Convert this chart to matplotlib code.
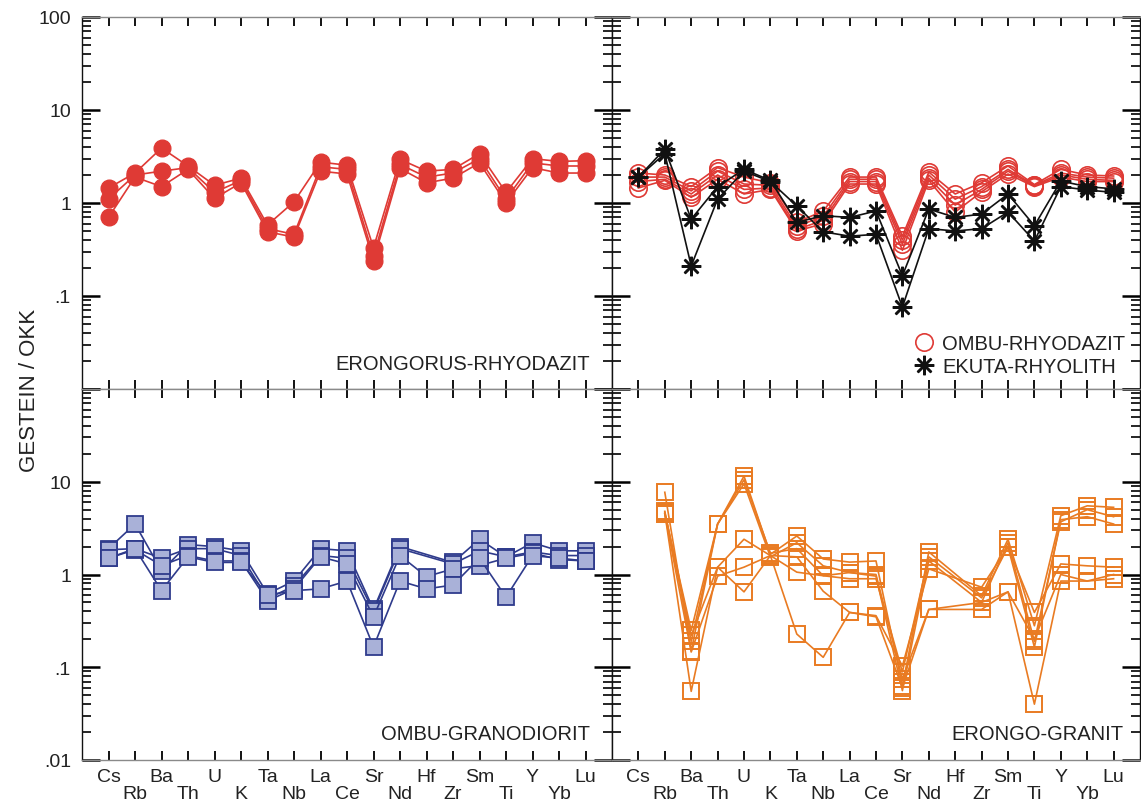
import numpy as np
import matplotlib.pyplot as plt
from matplotlib.lines import Line2D
from matplotlib.ticker import FixedLocator, FixedFormatter, LogLocator, NullFormatter

plt.rcParams['font.family'] = ['Liberation Sans', 'DejaVu Sans']
plt.rcParams['text.color'] = '#222222'

# normalised to ocean ridge granite (OKK)
elements = ['Cs', 'Rb', 'Ba', 'Th', 'U', 'K', 'Ta', 'Nb', 'La', 'Ce',
            'Sr', 'Nd', 'Hf', 'Zr', 'Sm', 'Ti', 'Y', 'Yb', 'Lu']
nan = np.nan

erongorus_rhyodazit = [
    [1.45, 2.1, 3.9, 2.5, 1.55, 1.85, 0.58, 1.03, 2.75, 2.55, 0.33, 2.95, 2.2, 2.3, 3.4, 1.3, 3.0, 2.8, 2.85],
    [1.1, 2.0, 2.2, 2.4, 1.3, 1.75, 0.53, 0.46, 2.45, 2.3, 0.27, 2.6, 1.9, 2.1, 3.0, 1.1, 2.7, 2.5, 2.5],
    [0.7, 1.9, 1.5, 2.3, 1.12, 1.65, 0.49, 0.43, 2.2, 2.05, 0.24, 2.35, 1.65, 1.85, 2.7, 1.0, 2.4, 2.1, 2.1],
]

ombu_rhyodazit = [
    [2.1, 2.0, 1.5, 2.4, 1.9, 1.65, 0.62, 0.82, 1.9, 1.9, 0.44, 2.15, 1.25, 1.65, 2.5, 1.58, 2.3, 2.0, 1.95],
    [1.9, 1.9, 1.35, 2.2, 1.6, 1.55, 0.56, 0.72, 1.8, 1.8, 0.40, 2.0, 1.1, 1.5, 2.3, 1.55, 2.1, 1.9, 1.85],
    [1.7, 1.8, 1.25, 2.0, 1.4, 1.45, 0.52, 0.65, 1.7, 1.7, 0.36, 1.85, 0.95, 1.4, 2.2, 1.52, 2.0, 1.8, 1.75],
    [1.45, 1.75, 1.15, 1.8, 1.25, 1.4, 0.50, 0.60, 1.6, 1.6, 0.31, 1.75, 0.8, 1.32, 2.05, 1.5, 1.9, 1.7, 1.7],
]

ekuta_rhyolith = [
    [1.9, 3.8, 0.67, 1.5, 2.3, 1.75, 0.62, 0.73, 0.70, 0.82, 0.165, 0.86, 0.70, 0.76, 1.25, 0.57, 1.72, 1.5, 1.42],
    [1.9, 3.4, 0.21, 1.1, 2.2, 1.7, 0.93, 0.49, 0.44, 0.46, 0.076, 0.53, 0.50, 0.53, 0.80, 0.39, 1.5, 1.38, 1.3],
]

ombu_granodiorit = [
    [1.9, 3.5, 1.1, 2.1, 2.0, 1.8, 0.62, 0.85, 1.9, 1.8, 0.42, 2.0, nan, 1.35, 2.4, 1.55, 2.2, 1.8, 1.8],
    [1.85, 1.9, 1.5, 1.9, 1.9, 1.6, 0.55, 0.75, 1.6, 1.5, 0.40, 1.9, nan, 1.3, 1.8, 1.55, 1.75, 1.6, 1.6],
    [1.5, 1.85, 1.25, 1.6, 1.4, 1.4, 0.52, 0.70, 1.55, 1.3, 0.35, 1.6, 0.95, 1.15, 1.25, 1.5, 1.7, 1.45, 1.4],
    [1.5, 1.9, 0.67, 1.55, 1.35, 1.35, 0.60, 0.67, 0.70, 0.85, 0.166, 0.85, 0.70, 0.77, 1.5, 0.57, 1.6, 1.5, 1.4],
]

erongo_granit = [
    [nan, 7.7, 0.15, 3.5, 11.5, 1.65, 2.6, 1.47, 1.36, 1.4, 0.063, 1.75, nan, 0.59, 2.4, 0.28, 4.3, 5.5, 5.3],
    [nan, 4.8, 0.19, 3.5, 9.5, 1.55, 2.2, 1.24, 1.05, 0.96, 0.056, 1.4, nan, 0.50, 2.2, 0.19, 3.7, 5.0, 4.2],
    [nan, 4.5, 0.25, 3.5, 10.5, 1.7, 1.9, 0.97, 0.9, 0.9, 0.089, 1.55, nan, 0.56, 1.98, 0.165, 3.9, 4.2, 3.5],
    [nan, 4.6, 0.055, 1.2, 2.4, 1.6, 1.55, 0.66, 0.39, 0.36, 0.103, 1.15, nan, 0.73, 1.98, 0.39, 1.3, 1.24, 1.2],
    [nan, 4.5, 0.146, 0.96, 1.2, 1.6, 1.06, 0.97, 1.05, 1.0, 0.075, 0.42, nan, 0.42, 0.65, 0.04, 0.85, 0.85, 0.9],
    [nan, 4.7, 0.22, 1.2, 0.65, 1.6, 0.228, 0.128, 0.39, 0.35, 0.06, 0.42, nan, 0.50, 0.65, 0.2, 1.0, 0.85, 1.0],
]

RED = '#df3a35'
ORANGE = '#e97b22'
BLUE_EDGE = '#2f3b8c'
BLUE_FILL = '#a9b1d8'
FS = 14.5

W, H = 1141, 803
fig = plt.figure(figsize=(W / 100, H / 100), dpi=100)


def panel(x0, x1, y0, y1):
    return fig.add_axes([x0 / W, 1 - y1 / H, (x1 - x0) / W, (y1 - y0) / H])


def style(ax, ylabels, xlabels):
    ax.set_yscale('log')
    ax.set_ylim(0.01, 100)
    ax.set_xlim(-1, 19)
    ax.yaxis.set_major_locator(FixedLocator([0.01, 0.1, 1, 10, 100]))
    ax.yaxis.set_minor_locator(LogLocator(base=10, subs=range(2, 10), numticks=20))
    ax.yaxis.set_minor_formatter(NullFormatter())
    if ylabels is None:
        ax.yaxis.set_major_formatter(NullFormatter())
    else:
        ax.yaxis.set_major_formatter(FixedFormatter(ylabels))
    ax.tick_params(axis='y', which='major', direction='in', left=True, right=True,
                   length=13, width=1.8, labelsize=14, pad=8, labelcolor='#222222')
    ax.tick_params(axis='y', which='minor', direction='in', left=True, right=True,
                   length=6.5, width=1.2)
    # alternate element labels on two rows
    ax.xaxis.set_major_locator(FixedLocator(range(0, len(elements), 2)))
    ax.xaxis.set_minor_locator(FixedLocator(range(1, len(elements), 2)))
    if xlabels:
        ax.xaxis.set_major_formatter(FixedFormatter(elements[0::2]))
        ax.xaxis.set_minor_formatter(FixedFormatter(elements[1::2]))
    else:
        ax.xaxis.set_major_formatter(NullFormatter())
        ax.xaxis.set_minor_formatter(NullFormatter())
    ax.tick_params(axis='x', which='major', direction='in', top=True, bottom=True,
                   length=6.5, width=1.3, labelsize=14, pad=6, labelcolor='#222222')
    ax.tick_params(axis='x', which='minor', direction='in', top=True, bottom=True,
                   length=6.5, width=1.3, labelsize=14, pad=18, labelcolor='#222222')
    for s in ['top', 'bottom']:
        ax.spines[s].set_color('#8a8a8a')
        ax.spines[s].set_linewidth(1.0)
    for s in ['left', 'right']:
        ax.spines[s].set_color('#111111')
        ax.spines[s].set_linewidth(1.0)


def draw(ax, series, **kw):
    x = np.arange(len(elements))
    for s in series:
        y = np.array(s, dtype=float)
        ok = np.isfinite(y)
        ax.plot(x[ok], y[ok], **kw)


ax1 = panel(82, 612, 18, 390)
ax2 = panel(612, 1140, 18, 390)
ax3 = panel(82, 612, 390, 761)
ax4 = panel(612, 1140, 390, 761)

style(ax1, ['', '.1', '1', '10', '100'], False)
style(ax2, None, False)
style(ax3, ['.01', '.1', '1', '10', ''], True)
style(ax4, None, True)

draw(ax1, erongorus_rhyodazit, color=RED, lw=1.2, marker='o', ms=12,
     mfc=RED, mec=RED)

draw(ax2, ombu_rhyodazit, color=RED, lw=1.2, marker='o', ms=12.5,
     mfc='none', mec=RED, mew=1.2)
draw(ax2, ekuta_rhyolith, color='#111111', lw=1.2, marker=(8, 2, 0), ms=14,
     mec='#111111', mew=1.8)

draw(ax3, ombu_granodiorit, color=BLUE_EDGE, lw=1.2, marker='s', ms=12,
     mfc=BLUE_FILL, mec=BLUE_EDGE, mew=1.3)

draw(ax4, erongo_granit, color=ORANGE, lw=1.2, marker='s', ms=12,
     mfc='none', mec=ORANGE, mew=1.4)

ax1.text(0.958, 0.054, 'ERONGORUS-RHYODAZIT', transform=ax1.transAxes,
         ha='right', va='baseline', fontsize=FS)
ax3.text(0.958, 0.057, 'OMBU-GRANODIORIT', transform=ax3.transAxes,
         ha='right', va='baseline', fontsize=FS)
ax4.text(0.968, 0.057, 'ERONGO-GRANIT', transform=ax4.transAxes,
         ha='right', va='baseline', fontsize=FS)

handles = [
    Line2D([], [], ls='none', marker='o', ms=12.5, mfc='none', mec=RED, mew=1.2),
    Line2D([], [], ls='none', marker=(8, 2, 0), ms=14, mec='#111111', mew=1.8),
]
ax2.legend(handles, ['OMBU-RHYODAZIT', 'EKUTA-RHYOLITH'], loc='lower right',
           bbox_to_anchor=(0.972, 0.035), frameon=False, fontsize=FS,
           handlelength=1.0, handletextpad=0.4, labelspacing=0.2,
           borderpad=0, borderaxespad=0)

fig.text(30 / W, 1 - 390 / H, 'GESTEIN / OKK', rotation=90, ha='center',
         va='center', fontsize=16)

fig.savefig('out.png', dpi=100)
